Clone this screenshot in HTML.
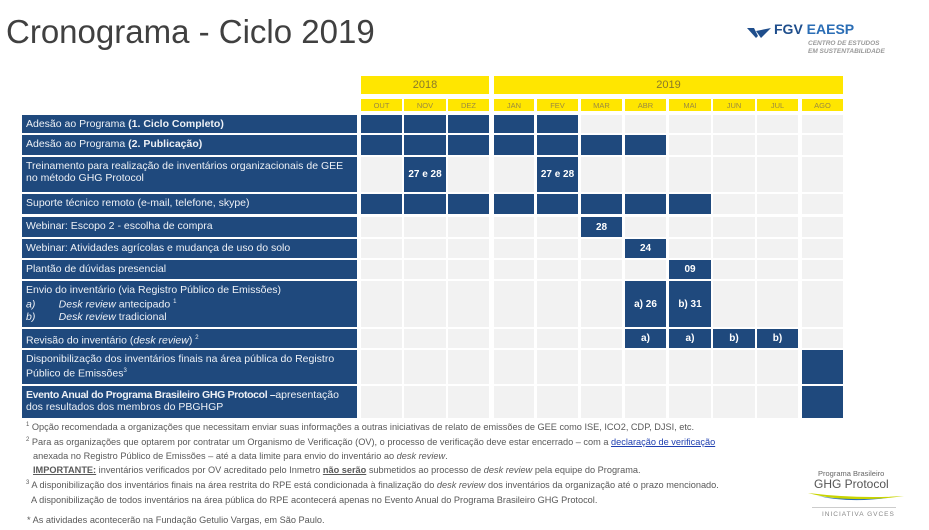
<!DOCTYPE html>
<html><head><meta charset="utf-8"><style>
body{margin:0;width:929px;height:530px;background:#fff;position:relative;overflow:hidden;font-family:"Liberation Sans",sans-serif}
.a{position:absolute;box-sizing:border-box}
.lab{background:#1f497d;color:#eef1f6;font-size:10.5px;line-height:12px;padding:3px 0 0 4px;white-space:nowrap;overflow:hidden}
.c{background:#f2f2f2;color:#fff;font-weight:bold;font-size:10px;display:flex;align-items:center;justify-content:center}
.c.f{background:#1f497d}
.y{background:#ffe600;color:#8a7a2a;font-size:11px;display:flex;align-items:center;justify-content:center}
.m{background:#ffe600;color:#9a8a40;font-size:7.5px;display:flex;align-items:center;justify-content:center}
.fn{position:absolute;left:26px;font-size:9.2px;color:#595959;white-space:nowrap}
sup{font-size:6px}
</style></head><body>
<div class="a" style="left:6px;top:13px;font-size:33px;color:#404040">Cronograma - Ciclo 2019</div>
<div class="a" style="left:747px;top:25px;width:24px;height:10px">
<svg width="24" height="10"><polygon points="0,0 7,0 11,8 9,10" fill="#1f4e8c"/><polygon points="9,3 24,0 14,10" fill="#1f4e8c"/></svg></div>
<div class="a" style="left:774px;top:21px;font-size:14px;font-weight:bold;color:#1f4e8c">FGV <span style="color:#2a6db5">EAESP</span></div>
<div class="a" style="left:808px;top:40px;font-size:6.5px;font-weight:bold;font-style:italic;color:#999;line-height:8px">CENTRO DE ESTUDOS<br>EM SUSTENTABILIDADE</div>
<div class="a y" style="left:361px;top:76px;width:128px;height:18px">2018</div>
<div class="a y" style="left:494px;top:76px;width:349px;height:18px">2019</div>
<div id="t"></div>
<div class="fn" style="top:422px"><sup>1</sup> Opção recomendada a organizações que necessitam enviar suas informações a outras iniciativas de relato de emissões de GEE como ISE, ICO2, CDP, DJSI, etc.</div>
<div class="fn" style="top:437px"><sup>2</sup> Para as organizações que optarem por contratar um Organismo de Verificação (OV), o processo de verificação deve estar encerrado – com a <u style="color:#1f3fb0">declaração de verificação</u></div>
<div class="fn" style="top:451px;left:33px">anexada no Registro Público de Emissões – até a data limite para envio do inventário ao <i>desk review</i>.</div>
<div class="fn" style="top:465px;left:33px"><b><u>IMPORTANTE:</u></b> inventários verificados por OV acreditado pelo Inmetro <b><u>não serão</u></b> submetidos ao processo de <i>desk review</i> pela equipe do Programa.</div>
<div class="fn" style="top:480px"><sup>3</sup> A disponibilização dos inventários finais na área restrita do RPE está condicionada à finalização do <i>desk review</i> dos inventários da organização até o prazo mencionado.</div>
<div class="fn" style="top:495px;left:31px">A disponibilização de todos inventários na área pública do RPE acontecerá apenas no Evento Anual do Programa Brasileiro GHG Protocol.</div>
<div class="fn" style="top:515px;left:27px">* As atividades acontecerão na Fundação Getulio Vargas, em São Paulo.</div>
<div class="a" style="left:818px;top:469px;font-size:7.5px;color:#666">Programa Brasileiro</div>
<div class="a" style="left:814px;top:477px;font-size:12px;color:#555">GHG Protocol</div>
<svg class="a" style="left:808px;top:490px" width="96" height="14"><path d="M0,3 Q40,14 96,6 Q50,9 0,3Z" fill="#c8d400"/><path d="M10,6 Q40,13 80,8 Q40,11 10,6Z" fill="#2a6db5"/></svg>
<div class="a" style="left:812px;top:507px;width:84px;border-top:1px solid #ccc"></div>
<div class="a" style="left:822px;top:511px;font-size:6.5px;color:#888;letter-spacing:1px">INICIATIVA GVCES</div>
<script>
var cx=[361,404,448,494,537,581,625,669,713,757,802],cw=[41,42,41,40,41,41,41,42,42,41,41];
var mn=["OUT","NOV","DEZ","JAN","FEV","MAR","ABR","MAI","JUN","JUL","AGO"];
var rows=[[115,133,'Adesão ao Programa <b>(1. Ciclo Completo)</b>',{0:'',1:'',2:'',3:'',4:''}],
[135,155,'Adesão ao Programa <b>(2. Publicação)</b>',{0:'',1:'',2:'',3:'',4:'',5:'',6:''}],
[157,192,'Treinamento para realização de inventários organizacionais de GEE<br>no método GHG Protocol',{1:'27 e 28',4:'27 e 28'}],
[194,214,'Suporte técnico remoto (e-mail, telefone, skype)',{0:'',1:'',2:'',3:'',4:'',5:'',6:'',7:''}],
[217,237,'Webinar: Escopo 2 - escolha de compra',{5:'28'}],
[239,258,'Webinar: Atividades agrícolas e mudança de uso do solo',{6:'24'}],
[260,279,'Plantão de dúvidas presencial',{7:'09'}],
[281,327,'Envio do inventário (via Registro Público de Emissões)<br><i>a)&nbsp;&nbsp;&nbsp;&nbsp;&nbsp;&nbsp;&nbsp;&nbsp;Desk review</i> antecipado <sup>1</sup><br><i>b)&nbsp;&nbsp;&nbsp;&nbsp;&nbsp;&nbsp;&nbsp;&nbsp;Desk review</i> tradicional',{6:'a) 26',7:'b) 31'}],
[329,348,'Revisão do inventário (<i>desk review</i>) <sup>2</sup>',{6:'a)',7:'a)',8:'b)',9:'b)'}],
[350,384,'Disponibilização dos inventários finais na área pública do Registro<br>Público de Emissões<sup>3</sup>',{10:''}],
[386,418,'<b style="letter-spacing:-0.35px">Evento Anual do Programa Brasileiro GHG Protocol –</b>apresentação<br>dos resultados dos membros do PBGHGP',{10:''}]];
var h='';
for(var i=0;i<11;i++)h+='<div class="a m" style="left:'+cx[i]+'px;top:99px;width:'+cw[i]+'px;height:12px">'+mn[i]+'</div>';
rows.forEach(function(r){var t=r[0],hh=r[1]-r[0];
h+='<div class="a lab" style="left:22px;top:'+t+'px;width:335px;height:'+hh+'px">'+r[2]+'</div>';
for(var i=0;i<11;i++){var f=(i in r[3]);h+='<div class="a c'+(f?' f':'')+'" style="left:'+cx[i]+'px;top:'+t+'px;width:'+cw[i]+'px;height:'+hh+'px">'+(f?r[3][i]:'')+'</div>';}});
document.getElementById('t').innerHTML=h;
</script>
</body></html>
